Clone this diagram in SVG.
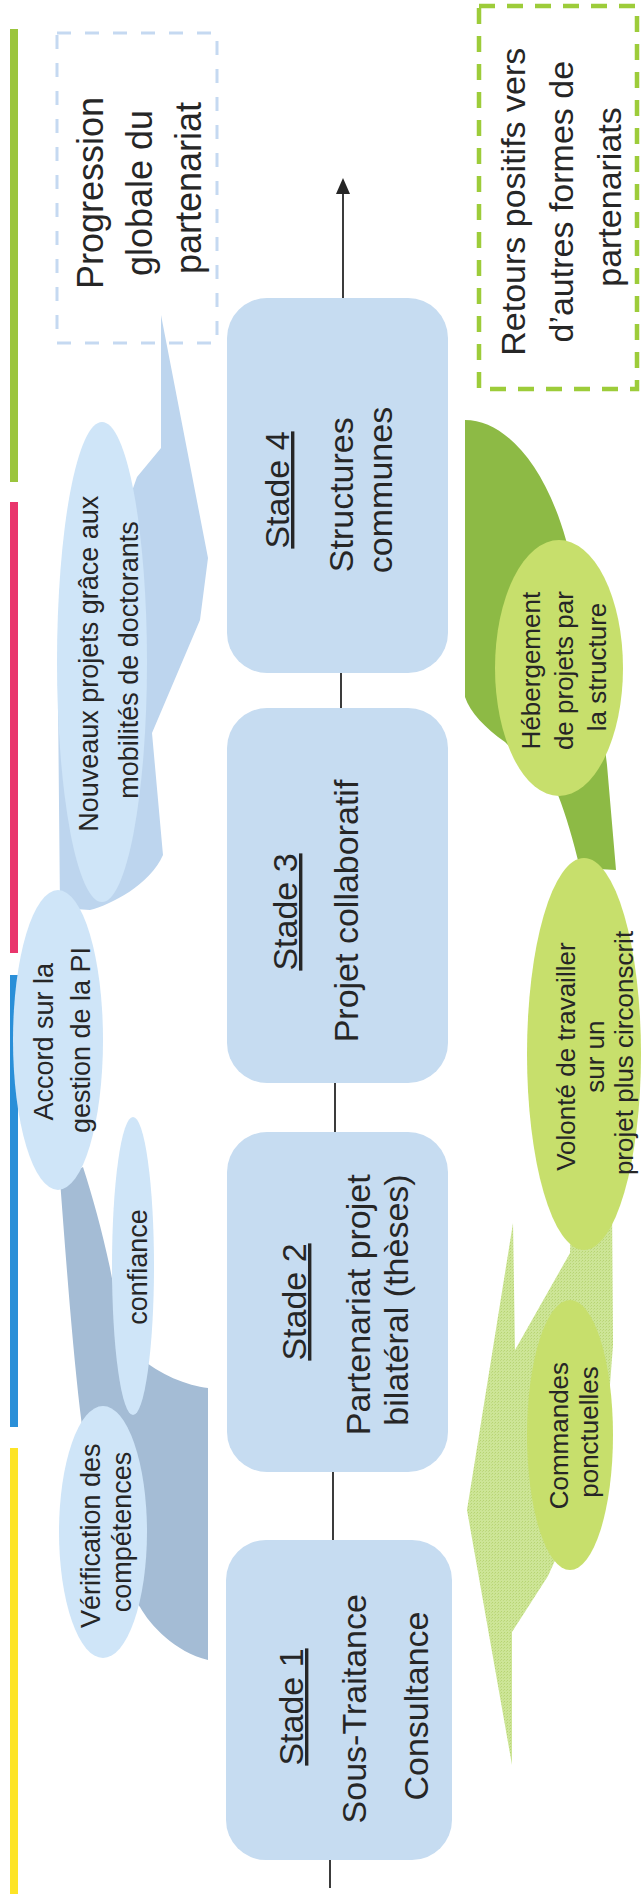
<svg xmlns="http://www.w3.org/2000/svg" width="641" height="1903" viewBox="0 0 641 1903">
  <defs>
    <style>
      text { font-family: "Liberation Sans", Arial, sans-serif; fill: #262626; text-anchor: middle; }
      .big { font-size: 34px; }
      .mid { font-size: 27px; }
      .sm { font-size: 26px; }
      .ttl { text-decoration: underline; }
      .stage { fill: #c6dcf1; }
      .bub { fill: #cfe5f8; }
      .lime { fill: #c7df6c; }
      .conn { stroke: #262626; stroke-width: 1.8; fill: none; }
    </style>
    <pattern id="grain" width="3" height="3" patternUnits="userSpaceOnUse">
      <rect width="3" height="3" fill="#cde597"/>
      <rect width="1" height="1" fill="#b7d473"/>
      <rect x="2" y="1" width="1" height="1" fill="#bfda80"/>
    </pattern>
  </defs>

  <rect width="641" height="1903" fill="#ffffff"/>

  <!-- phase bars -->
  <g id="bars">
    <rect x="10" y="29" width="8" height="453" fill="#9bc53d"/>
    <rect x="10" y="502" width="8" height="451" fill="#e9356c"/>
    <rect x="10" y="975" width="8" height="452" fill="#2a8fd8"/>
    <rect x="10" y="1448" width="8" height="446" fill="#fde426"/>
  </g>

  <!-- left rising arrow: dark tail, lighter head -->
  <g id="blue-arrow">
    <path d="M208,1660 L208,1388 C188,1386 158,1374 140,1357 C125,1340 116,1300 110,1268 C102,1230 92,1195 83,1167 L60,1180 C66,1260 72,1340 80,1410 C88,1480 110,1570 140,1607 C150,1625 175,1652 208,1660 Z" fill="#a4bcd5"/>
    <path d="M60,908 L58,700 L137,477 L161,448 L161,315 L208,558 L200,620 L152,733 L163,855 C150,885 110,905 90,910 Z" fill="#bdd5ee"/>
  </g>

  <!-- right descending arrow: dark tail, textured head -->
  <g id="green-arrow">
    <path d="M465,420 C505,420 545,465 566,540 C585,610 600,700 607,765 L616,870 L580,868 C573,840 566,815 558,795 L505,742 C485,728 470,712 465,697 Z" fill="#8dba45"/>
    <path d="M612,1200 L613,1345 L605,1450 L548,1576 L512,1632 L512,1765 L467,1510 L513,1223 L515,1350 L570,1253 L572,1200 Z" fill="url(#grain)"/>
  </g>

  <!-- dashed legend boxes -->
  <g id="legend-progression">
    <rect x="57" y="33" width="160" height="310" fill="none" stroke="#c5d9f1" stroke-width="3" stroke-dasharray="14 14"/>
    <text class="big" style="font-size:36px" transform="rotate(-90)">
      <tspan x="-188" y="103">Progression</tspan>
      <tspan x="-188" y="152">globale du</tspan>
      <tspan x="-188" y="201">partenariat</tspan>
    </text>
  </g>
  <g id="legend-retours">
    <rect x="479" y="6" width="158" height="383" fill="none" stroke="#9dcc3a" stroke-width="4.5" stroke-dasharray="16 12"/>
    <text class="big" transform="rotate(-90)">
      <tspan x="-197" y="525">Retours positifs vers</tspan>
      <tspan x="-197" y="573">d’autres formes de</tspan>
      <tspan x="-197" y="621">partenariats</tspan>
    </text>
  </g>

  <!-- left bubbles -->
  <g id="bubble-nouveaux">
    <ellipse class="bub" cx="102" cy="662" rx="45" ry="240"/>
    <text class="mid" transform="rotate(-90)">
      <tspan x="-660" y="98">Nouveaux projets grâce aux</tspan>
      <tspan x="-660" y="138">mobilités de doctorants</tspan>
    </text>
  </g>
  <g id="bubble-accord">
    <ellipse class="bub" cx="58" cy="1040" rx="45" ry="150"/>
    <text class="mid" transform="rotate(-90)">
      <tspan x="-1038" y="53">Accord sur la</tspan>
      <tspan x="-1040" y="90">gestion de la PI</tspan>
    </text>
  </g>
  <g id="bubble-confiance">
    <ellipse class="bub" cx="133" cy="1266" rx="21" ry="149"/>
    <text class="mid" transform="rotate(-90)" x="-1267" y="147">confiance</text>
  </g>
  <g id="bubble-verification">
    <ellipse class="bub" cx="103" cy="1532" rx="44" ry="126"/>
    <text class="mid" transform="rotate(-90)">
      <tspan x="-1532" y="100">Vérification des</tspan>
      <tspan x="-1532" y="131">compétences</tspan>
    </text>
  </g>

  <!-- right bubbles -->
  <g id="bubble-hebergement">
    <ellipse class="lime" cx="559" cy="668" rx="64" ry="128"/>
    <text class="sm" transform="rotate(-90)">
      <tspan x="-667" y="540">Hébergement</tspan>
      <tspan x="-667" y="573">de projets par</tspan>
      <tspan x="-667" y="606">la structure</tspan>
    </text>
  </g>
  <g id="bubble-volonte">
    <ellipse class="lime" cx="584" cy="1054" rx="57" ry="196"/>
    <text class="sm" transform="rotate(-90)">
      <tspan x="-1053" y="575">Volonté de travailler</tspan>
      <tspan x="-1053" y="604">sur un</tspan>
      <tspan x="-1053" y="633">projet plus circonscrit</tspan>
    </text>
  </g>
  <g id="bubble-commandes">
    <ellipse class="lime" cx="570" cy="1435" rx="43" ry="135"/>
    <text class="sm" transform="rotate(-90)">
      <tspan x="-1432" y="568">Commandes</tspan>
      <tspan x="-1432" y="598">ponctuelles</tspan>
    </text>
  </g>

  <!-- connectors -->
  <g id="connectors">
    <line class="conn" x1="343" y1="298" x2="343" y2="190"/>
    <polygon points="343,178 336,194 350,194" fill="#262626"/>
    <line class="conn" x1="341" y1="673" x2="341" y2="708"/>
    <line class="conn" x1="335" y1="1083" x2="335" y2="1132"/>
    <line class="conn" x1="333" y1="1472" x2="333" y2="1540"/>
    <line class="conn" x1="330" y1="1860" x2="330" y2="1888"/>
  </g>

  <!-- stages -->
  <g id="stade-4">
    <rect class="stage" x="227" y="298" width="221" height="375" rx="40"/>
    <text class="big ttl" transform="rotate(-90)" x="-490" y="289">Stade 4</text>
    <text class="big" transform="rotate(-90)">
      <tspan x="-490" y="353">Structures</tspan>
      <tspan x="-490" y="392">communes</tspan>
    </text>
  </g>
  <g id="stade-3">
    <rect class="stage" x="227" y="708" width="221" height="375" rx="40"/>
    <text class="big ttl" transform="rotate(-90)" x="-912" y="297">Stade 3</text>
    <text class="big" transform="rotate(-90)" x="-911" y="358">Projet collaboratif</text>
  </g>
  <g id="stade-2">
    <rect class="stage" x="227" y="1132" width="221" height="340" rx="40"/>
    <text class="big ttl" transform="rotate(-90)" x="-1302" y="306">Stade 2</text>
    <text class="big" transform="rotate(-90)">
      <tspan x="-1300" y="370">Partenariat projet</tspan>
      <tspan x="-1300" y="408">bilatéral (thèses)</tspan>
    </text>
  </g>
  <g id="stade-1">
    <rect class="stage" x="226" y="1540" width="226" height="320" rx="40"/>
    <text class="big ttl" transform="rotate(-90)" x="-1707" y="303">Stade 1</text>
    <text class="big" transform="rotate(-90)">
      <tspan x="-1704" y="366">Sous-Traitance</tspan>
      <tspan x="-1706" y="428">Consultance</tspan>
    </text>
  </g>
</svg>
